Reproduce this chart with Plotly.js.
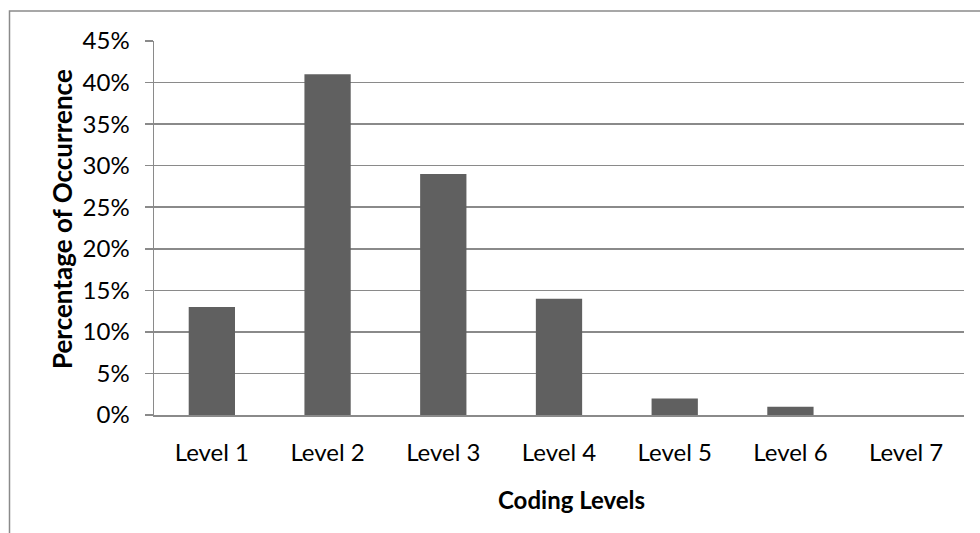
<!DOCTYPE html>
<html>
<head>
<meta charset="utf-8">
<script src="https://cdn.plot.ly/plotly-3.0.1.min.js"></script>
<style>
  html, body { margin: 0; padding: 0; background: #ffffff; }
  #chart { width: 980px; height: 533px; }
</style>
</head>
<body>
<div id="chart"></div>
<script>
// Share of coded statements at each coding level
const levels = ['Level 1', 'Level 2', 'Level 3', 'Level 4', 'Level 5', 'Level 6', 'Level 7'];
const shares = [0.13, 0.41, 0.29, 0.14, 0.02, 0.01, 0.00];

const yTickVals = [0, 0.05, 0.10, 0.15, 0.20, 0.25, 0.30, 0.35, 0.40, 0.45];

const xTitle = 'Coding Levels';
const yTitle = 'Percentage of Occurrence';

const gray = '#8a8a8a';
const fontFamily = 'Lato, "Open Sans", sans-serif';

const trace = {
  type: 'bar',
  x: levels,
  y: shares,
  marker: { color: '#606060', line: { width: 0 } },
  hoverinfo: 'x+y'
};

// Plot area margins; the frame around the whole chart is drawn as a paper shape
const M = { l: 154, r: 16, t: 41, b: 118 };
const plotW = 980 - M.l - M.r;
const plotH = 533 - M.t - M.b;
const px = v => (v - M.l) / plotW;
const py = v => (533 - M.b - v) / plotH;

const layout = {
  width: 980,
  height: 533,
  margin: M,
  paper_bgcolor: '#ffffff',
  plot_bgcolor: '#ffffff',
  showlegend: false,
  bargap: 0.6,
  font: { family: fontFamily, size: 24, color: '#000000' },
  xaxis: {
    type: 'category',
    showline: true,
    linecolor: gray,
    linewidth: 1.5,
    ticks: '',
    showgrid: false,
    tickfont: { family: fontFamily, size: 24, color: '#000000' },
    ticklabelstandoff: 16
  },
  yaxis: {
    range: [0, 0.45],
    tickvals: yTickVals,
    tickformat: '.0%',
    showline: true,
    linecolor: gray,
    linewidth: 1.5,
    ticks: 'outside',
    ticklen: 8,
    tickwidth: 1.5,
    tickcolor: gray,
    showgrid: true,
    gridcolor: gray,
    gridwidth: 1.5,
    zeroline: false,
    tickfont: { family: fontFamily, size: 24, color: '#000000' },
    ticklabelstandoff: 10
  },
  annotations: [{
    text: '<b>' + yTitle + '</b>',
    textangle: -90,
    xref: 'paper', yref: 'paper',
    x: px(62), y: py(219),
    xanchor: 'center', yanchor: 'middle',
    showarrow: false,
    font: { family: fontFamily, size: 26, color: '#000000' }
  }, {
    text: '<b>' + xTitle + '</b>',
    xref: 'paper', yref: 'paper',
    x: px(571.5), y: py(499),
    xanchor: 'center', yanchor: 'middle',
    showarrow: false,
    font: { family: fontFamily, size: 24, color: '#000000' }
  }],
  shapes: [{
    type: 'rect',
    xref: 'paper', yref: 'paper',
    x0: px(9.5), x1: px(1000),
    y0: py(560), y1: py(11),
    line: { color: gray, width: 1.5 },
    fillcolor: 'rgba(0,0,0,0)',
    layer: 'below'
  }]
};

Plotly.newPlot('chart', [trace], layout, { staticPlot: true, displayModeBar: false });
</script>
</body>
</html>
